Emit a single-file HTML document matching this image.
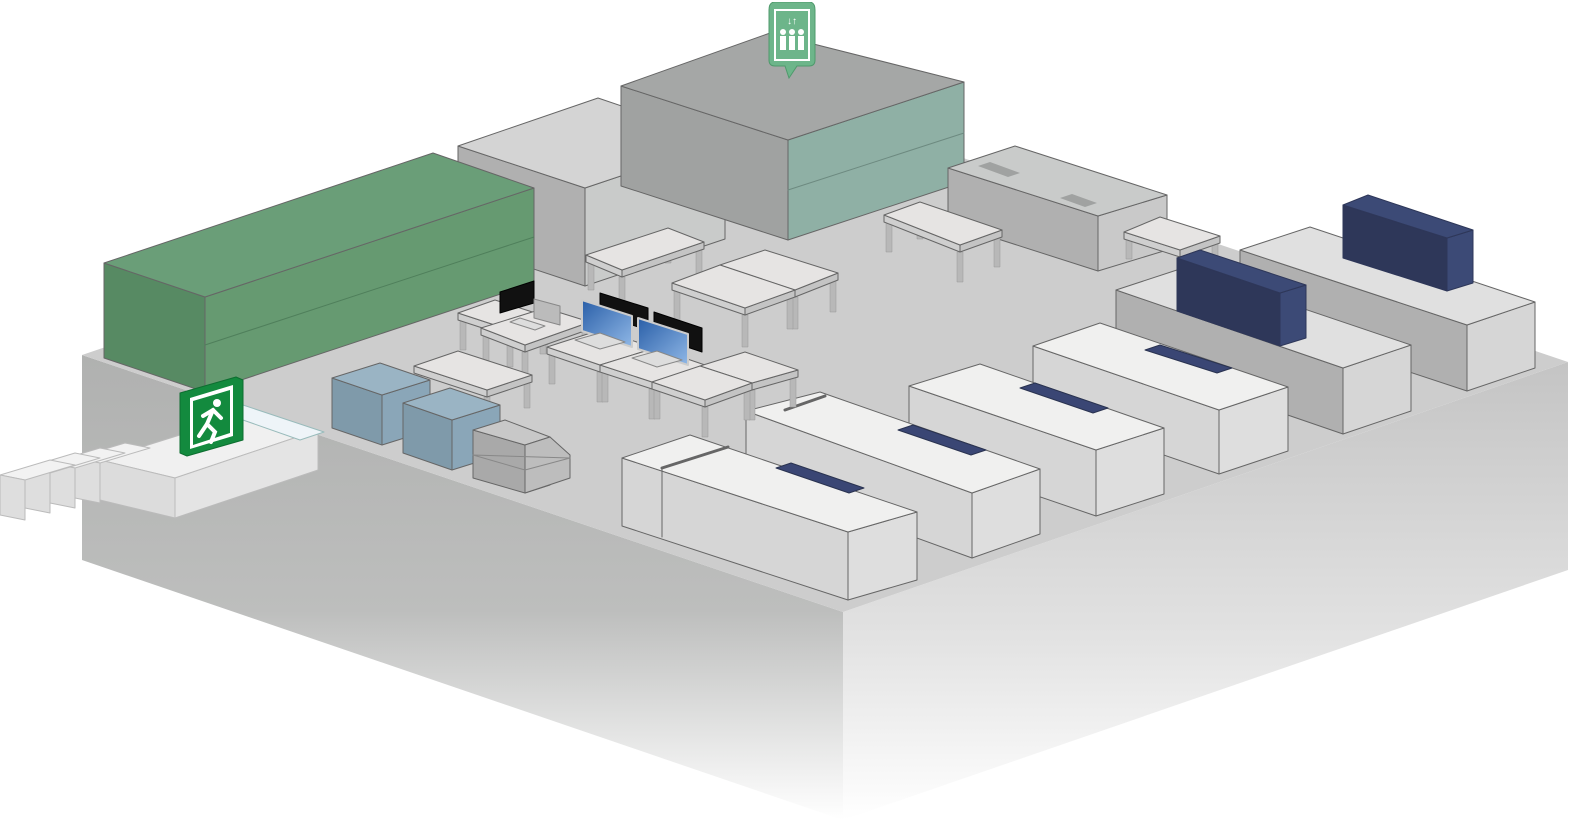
<!DOCTYPE html>
<html><head><meta charset="utf-8"><style>html,body{margin:0;padding:0;background:#fff;width:1596px;height:835px;overflow:hidden}svg{display:block}</style></head>
<body>
<svg id="s" width="1596" height="835" viewBox="0 0 1596 835" xmlns="http://www.w3.org/2000/svg">
<defs>
<linearGradient id="gl" x1="0" y1="0" x2="0" y2="1"><stop offset="0" stop-color="#b0b1b0"/><stop offset="0.55" stop-color="#bdbebd"/><stop offset="1" stop-color="#ffffff"/></linearGradient>
<linearGradient id="gr" x1="0" y1="0" x2="0" y2="1"><stop offset="0" stop-color="#c4c4c4"/><stop offset="0.6" stop-color="#e2e2e2"/><stop offset="1" stop-color="#ffffff"/></linearGradient>
<linearGradient id="scr" x1="0" y1="0" x2="1" y2="1"><stop offset="0" stop-color="#2a5fa8"/><stop offset="1" stop-color="#8fb7e6"/></linearGradient>
</defs>
<polygon points="82,355 843,612 843,820 82,560" fill="url(#gl)"/>
<polygon points="843,612 1568,362 1568,570 843,820" fill="url(#gr)"/>
<polygon points="82,355 812,107 1568,362 843,612" fill="#cdcdcd"/>
<g id="g"></g>
</svg>
<script>
var g=document.getElementById('g');var NS='http://www.w3.org/2000/svg';
function P(pts,fill,st,sw){var p=document.createElementNS(NS,'polygon');p.setAttribute('points',pts.map(function(q){return q.join(',')}).join(' '));p.setAttribute('fill',fill);p.setAttribute('stroke',st||'#666');p.setAttribute('stroke-width',sw||1);p.setAttribute('stroke-linejoin','round');g.appendChild(p);}
function dn(p,h){return [p[0],p[1]+h];}
function box(a,b,c,d,h,t,l,f,st){P([a,d,dn(d,h),dn(a,h)],l,st);P([d,c,dn(c,h),dn(d,h)],f,st);P([a,b,c,d],t,st);}
function table(a,b,c,d,L){var th=7;
 [b,a,c,d].forEach(function(p){var x=p[0]+(p==a?5:p==c?-5:0),y=p[1]+th;P([[x-3,y],[x+3,y],[x+3,y+L],[x-3,y+L]],'#b8b8b8','#999',0.5);});
 P([a,d,dn(d,th),dn(a,th)],'#cfcfcf');P([d,c,dn(c,th),dn(d,th)],'#c4c4c4');P([a,b,c,d],'#e6e4e3');}
box([458,146],[598,98],[725,141],[585,188],98,'#d4d4d4','#b0b0b0','#c9cbca');
box([621,86],[770,33],[964,82],[788,140],100,'#a5a7a6','#a0a2a1','#8fb0a5');
P([[788,190],[964,133]],'none','#6d8a80');
box([948,168],[1015,146],[1167,195],[1098,216],55,'#c9cbca','#b0b0b0','#c9c9c9');
P([[978,166],[990,162],[1020,173],[1008,177]],'#a0a2a1','none');P([[1060,198],[1072,194],[1097,203],[1085,207]],'#a0a2a1','none');
box([104,263],[433,153],[534,188],[205,297],95,'#6a9e78','#578a63','#669a71');
P([[205,345],[534,237]],'none','#4f7f5b');
table([586,255],[668,228],[704,242],[622,270],28);
table([884,215],[920,202],[1002,230],[960,245],30);
table([1124,232],[1160,217],[1220,236],[1180,250],20);
table([720,265],[765,250],[838,273],[795,290],32);
table([672,283],[720,265],[795,290],[745,308],32);
box([1240,250],[1310,227],[1535,302],[1467,325],66,'#e0e0e0','#b0b0b0','#d6d6d6');
box([1343,205],[1368,195],[1473,230],[1447,238],53,'#3c4a76','#2e3759','#3c4a76','#2e3759');
box([1116,290],[1183,268],[1411,345],[1343,368],66,'#e0e0e0','#b0b0b0','#d6d6d6');
box([1177,258],[1200,250],[1306,285],[1280,293],53,'#3c4a76','#2e3759','#3c4a76','#2e3759');
box([1033,346],[1100,323],[1288,387],[1219,410],64,'#f0f0ef','#d6d6d6','#dedede');
P([[1145,350],[1160,345],[1232,368],[1217,373]],'#3a4674','#2a3350');
box([909,386],[980,364],[1164,428],[1096,450],66,'#f0f0ef','#d6d6d6','#dedede');
P([[1020,388],[1035,383],[1108,408],[1093,413]],'#3a4674','#2a3350');
box([746,411],[820,392],[1040,469],[972,493],65,'#f0f0ef','#d6d6d6','#dedede');
P([[785,410],[825,396]],'none','#666',3);
P([[898,430],[913,425],[986,450],[971,455]],'#3a4674','#2a3350');
box([622,458],[690,435],[917,512],[848,532],68,'#f0f0ef','#d6d6d6','#dedede');
P([[662,468],[728,447]],'none','#666',3);P([[662,468],[662,537]],'none','#666',1);
P([[776,468],[791,463],[864,488],[849,493]],'#3a4674','#2a3350');
table([458,313],[495,300],[548,317],[510,330],30);
table([481,328],[545,308],[590,322],[525,345],30);
table([547,347],[600,330],[655,348],[600,365],30);
table([600,365],[655,348],[705,365],[652,382],30);
table([700,366],[745,352],[798,370],[752,383],30);
table([652,382],[700,366],[752,383],[705,400],30);
table([414,366],[458,351],[532,375],[487,390],26);
P([[500,292],[534,281],[534,303],[500,313]],'#111','#000');
P([[534,299],[560,306],[560,325],[534,318]],'#bbb','#888');
P([[520,318],[545,326],[535,330],[510,322]],'#ddd','#888');
P([[600,293],[648,308],[648,330],[600,315]],'#111','#000');
P([[654,312],[702,328],[702,352],[654,336]],'#111','#000');
P([[582,300],[632,316],[632,347],[582,331]],'url(#scr)','#ccc',2);
P([[638,318],[688,334],[688,365],[638,349]],'url(#scr)','#ccc',2);
P([[575,340],[600,333],[625,342],[600,349]],'#ddd','#888');
P([[632,358],[657,351],[682,360],[657,367]],'#ddd','#888');
box([332,378],[380,363],[430,380],[382,395],50,'#9ab4c4','#7f9aaa','#8aa6b8');
box([403,403],[450,388],[500,405],[452,420],50,'#9ab4c4','#7f9aaa','#8aa6b8');
box([473,430],[505,420],[550,437],[525,445],48,'#c8c8c8','#a9a9a9','#bcbcbc');
P([[525,445],[550,437],[570,455],[570,478],[525,493]],'#bdbdbd');
P([[473,455],[525,470],[570,458]],'none','#888');
P([[100,460],[250,413],[318,430],[175,478]],'#f0f0f0','#bbb');
P([[100,460],[175,478],[175,518],[100,500]],'#dcdcdc','#bbb');
P([[175,478],[318,430],[318,470],[175,518]],'#e4e4e4','#bbb');
P([[243,405],[324,432],[300,440],[243,420]],'#eef4f8','#9bb');
[[75,458],[50,463],[25,468],[0,475]].forEach(function(p){P([[p[0],p[1]],[p[0]+50,p[1]-15],[p[0]+75,p[1]-10],[p[0]+25,p[1]+5]],'#f2f2f2','#bbb');P([[p[0],p[1]],[p[0]+25,p[1]+5],[p[0]+25,p[1]+45],[p[0],p[1]+40]],'#dedede','#bbb');});
P([[180,393],[236,377],[243,380],[243,440],[187,456],[180,453]],'#138a3e','#0d6e30');
P([[190,398],[233,385],[233,436],[190,449]],'#fff','none');
P([[193,401],[230,390],[230,433],[193,445]],'#138a3e','none');
</script>
<svg style="position:absolute;left:767px;top:2px" width="50" height="80" viewBox="0 0 50 80"><path d="M8 0 H42 Q48 0 48 8 V58 Q48 64 42 64 H30 L22 76 L18 64 H8 Q2 64 2 58 V8 Q2 0 8 0Z" fill="#6db58a" stroke="#4f9a6c"/><rect x="8" y="8" width="34" height="50" fill="none" stroke="#fff" stroke-width="2"/><text x="25" y="22" font-family="Liberation Sans,sans-serif" font-size="10" fill="#fff" text-anchor="middle">↓↑</text>
<g fill="#fff"><circle cx="16" cy="30" r="3"/><rect x="13" y="34" width="6" height="14"/><circle cx="25" cy="30" r="3"/><rect x="22" y="34" width="6" height="14"/><circle cx="34" cy="30" r="3"/><rect x="31" y="34" width="6" height="14"/></g></svg>
<svg style="position:absolute;left:193px;top:388px" width="40" height="60" viewBox="0 0 40 60"><g stroke="#fff" stroke-width="4" fill="none" stroke-linecap="round"><path d="M20 22 L14 36 L22 44 L18 54"/><path d="M14 36 L6 48"/><path d="M10 28 L20 22 L28 30"/></g><circle cx="24" cy="15" r="4" fill="#fff"/></svg>
</body></html>
